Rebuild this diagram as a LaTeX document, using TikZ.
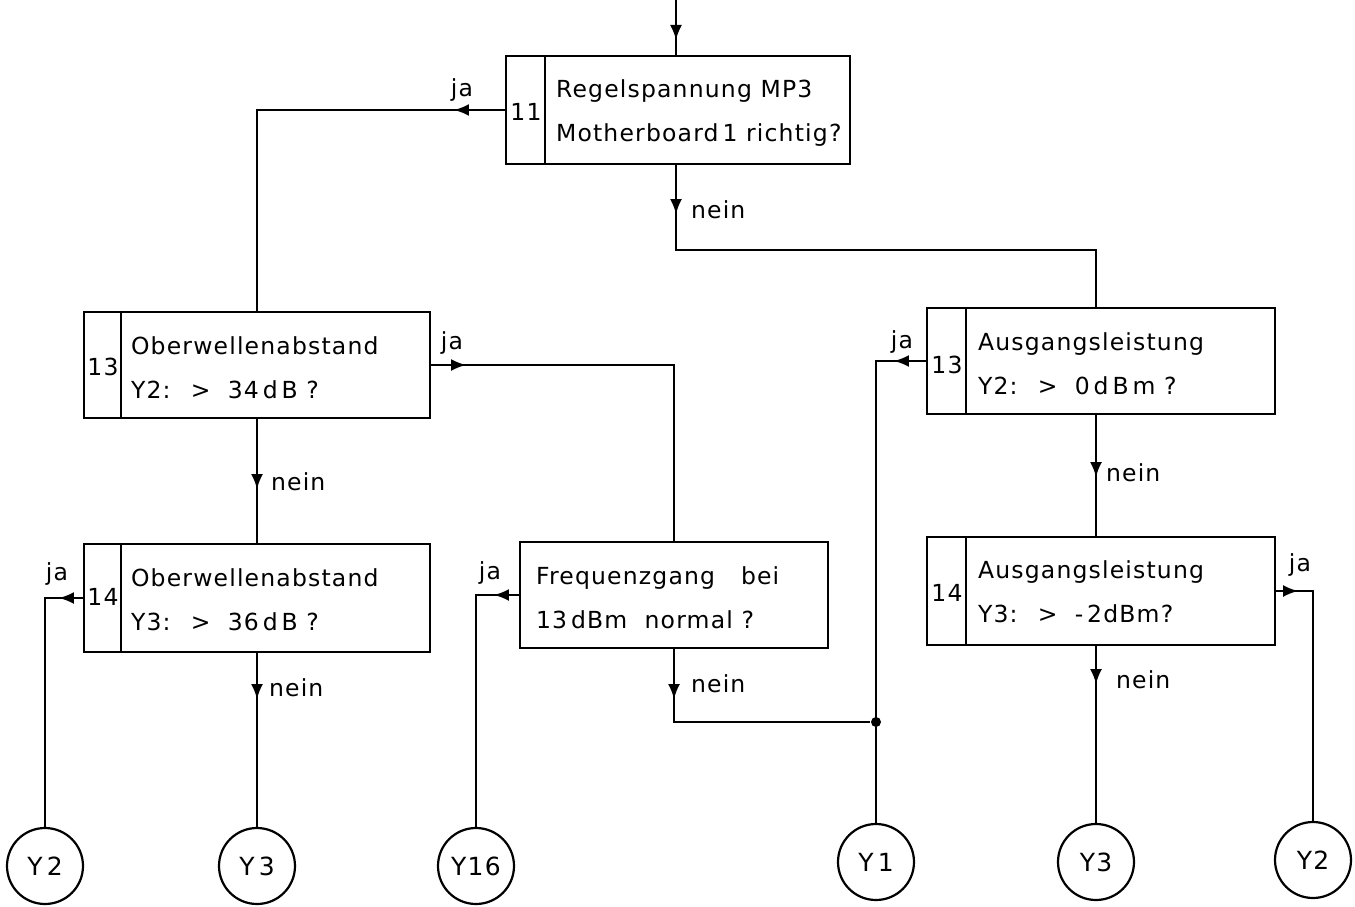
\documentclass[tikz,border=0pt]{standalone}
\usepackage{fontspec}
\setmainfont{DejaVu Sans}[LetterSpace=5]
\usetikzlibrary{arrows.meta,decorations.markings}
\begin{document}
\begin{tikzpicture}[x=1pt,y=-1pt,
  line width=2.2pt,
  font=\fontsize{23.5}{44}\selectfont,
  box/.style={draw, rectangle, inner sep=0pt},
  txt/.style={anchor=west, align=left, inner sep=0pt},
  num/.style={inner sep=0pt},
  lbl/.style={inner sep=0pt},
  lblw/.style={inner sep=0pt, anchor=west},
  term/.style={draw, circle, minimum size=76pt, inner sep=0pt, font=\fontsize{25}{30}\selectfont},
  mk/.style={postaction={decorate}, decoration={markings, mark=at position #1 with {\arrow{Latex[length=15pt,width=12pt]}}}}]
\useasboundingbox (0,0) rectangle (1355,907);

% boxes
\node[box, minimum width=344pt, minimum height=108pt] (b11) at (678,110) {};
\node[box, minimum width=346pt, minimum height=106pt] (b13L) at (257,365) {};
\node[box, minimum width=346pt, minimum height=108pt] (b14L) at (257,598) {};
\node[box, minimum width=308pt, minimum height=106pt] (bF) at (674,595) {};
\node[box, minimum width=348pt, minimum height=106pt] (b13R) at (1101,361) {};
\node[box, minimum width=348pt, minimum height=108pt] (b14R) at (1101,591) {};

% dividers
\draw ([xshift=40pt]b11.north west) -- ([xshift=40pt]b11.south west);
\draw ([xshift=38pt]b13L.north west) -- ([xshift=38pt]b13L.south west);
\draw ([xshift=38pt]b14L.north west) -- ([xshift=38pt]b14L.south west);
\draw ([xshift=40pt]b13R.north west) -- ([xshift=40pt]b13R.south west);
\draw ([xshift=40pt]b14R.north west) -- ([xshift=40pt]b14R.south west);

% numbers
\node[num] (n11) at (526,112) {11};
\node[num] (n13L) at (103,367) {13};
\node[num] (n14L) at (103,597) {14};
\node[num] (n13R) at (947,365) {13};
\node[num] (n14R) at (947,593) {14};

% texts
\node[txt] (t11) at (555,113) {Regelspannung MP3\\Motherboard\,1 richtig?};
\node[txt] (t13L) at (130,368) {Oberwellenabstand\\Y2: \ >\ \ 34\,d\,B ?};
\node[txt] (t14L) at (130,600) {Oberwellenabstand\\Y3: \ >\ \ 36\,d\,B ?};
\node[txt] (tF) at (535,598) {Frequenzgang\ \ \ bei\\13\,dBm\ \ normal ?};
\node[txt] (t13R) at (977,364) {Ausgangsleistung\\Y2: \ >\ \ 0\,d\,B\,m ?};
\node[txt] (t14R) at (977,592) {Ausgangsleistung\\Y3: \ >\ \ -\,2dBm?};

% terminals
\node[term] (cY2a) at (45,866) {Y\,2};
\node[term] (cY3a) at (257,866) {Y\,3};
\node[term] (cY16) at (476,866) {Y16};
\node[term] (cY1) at (876,862) {Y\,1};
\node[term] (cY3b) at (1096,862) {Y3};
\node[term] (cY2b) at (1313,860) {Y2};

% helper coordinates
\coordinate (in) at (676,0);
\coordinate (t1) at (1096,250);
\node[circle, fill, inner sep=0pt, minimum size=10pt] (j) at (876,722) {};

% connectors
\draw[mk=40pt] (in) -- (in |- b11.north);
\draw[mk=49pt] (in |- b11.south) |- (t1) -- (t1 |- b13R.north);
\draw[mk=51pt] (b11.west) -| (b13L.north);
\draw[mk=35pt] (b13L.east) -| (bF.north);
\draw[mk=70pt] (b13L.south) -- (b14L.north);
\draw[mk=24pt] (b14L.west) -| (cY2a.north);
\draw[mk=46pt] (b14L.south) -- (cY3a.north);
\draw[mk=25pt] (bF.west) -| (cY16.north);
\draw[mk=50pt] (bF.south) |- (j);
\draw[mk=32pt] (b13R.west) -| (cY1.north);
\draw[mk=62pt] (cY3b.north |- b13R.south) -- (cY3b.north |- b14R.north);
\draw[mk=22pt] (b14R.east) -| (cY2b.north);
\draw[mk=38pt] (cY3b.north |- b14R.south) -- (cY3b.north);

% labels
\node[lbl] (lja11) at (462,90) {ja};
\node[lblw] (lne11) at (690,210) {nein};
\node[lbl] (lja13L) at (452,343) {ja};
\node[lblw] (lne13L) at (270,482) {nein};
\node[lbl] (lja14L) at (57,574) {ja};
\node[lblw] (lne14L) at (268,688) {nein};
\node[lbl] (ljaF) at (490,573) {ja};
\node[lblw] (lneF) at (690,684) {nein};
\node[lbl] (lja13R) at (902,342) {ja};
\node[lblw] (lne13R) at (1105,473) {nein};
\node[lbl] (lja14R) at (1300,565) {ja};
\node[lblw] (lne14R) at (1115,680) {nein};
\end{tikzpicture}
\end{document}
